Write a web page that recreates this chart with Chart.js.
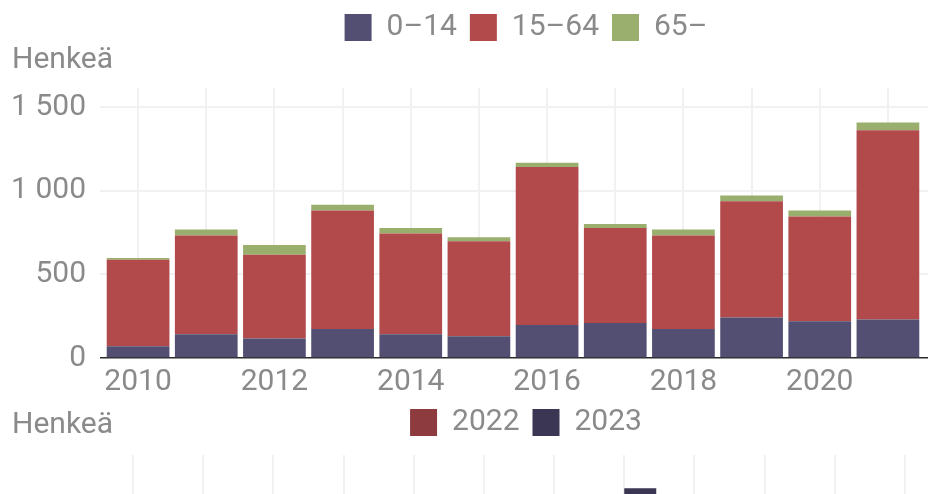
<!DOCTYPE html>
<html lang="fi">
<head>
<meta charset="utf-8">
<title>Henkeä</title>
<script src="https://cdn.jsdelivr.net/npm/chart.js@4/dist/chart.umd.min.js"></script>
<style>
  html, body { margin: 0; padding: 0; background: #fff; overflow: hidden; width: 928px; height: 494px; }
  canvas { display: block; }
  #chart { margin-bottom: -4px; }
</style>
</head>
<body>
<canvas id="chart" width="1040" height="399"></canvas>
<canvas id="chart2" width="1040" height="395"></canvas>
<script>
// yearly figures by age group
const years = ['2010', '2011', '2012', '2013', '2014', '2015', '2016', '2017', '2018', '2019', '2020', '2021'];
const age0to14 = [70, 142, 116, 174, 142, 130, 198, 210, 174, 242, 220, 230];
const age15to64 = [518, 590, 502, 708, 602, 568, 944, 568, 558, 696, 626, 1132];
const age65plus = [10, 36, 58, 34, 34, 24, 26, 24, 36, 34, 36, 46];
const ageLabels = ['0–14', '15–64', '65–'];
const yTicks = [0, 500, 1000, 1500];

// monthly figures (only the top of the second chart is in view)
const months = ['tammi', 'helmi', 'maalis', 'huhti', 'touko', 'kesä', 'heinä', 'elo', 'syys', 'loka', 'marras', 'joulu'];
const year2022 = [55, 48, 62, 70, 85, 110, 95, 150, 120, 90, 75, 80];
const year2023 = [62, 55, 70, 80, 95, 125, 105, 221, 135, 100, 85, 88];
const monthSeries = ['2022', '2023'];
const yTicks2 = [0, 50, 100, 150, 200];

const textColor = '#8a8a8a';
const gridColor = '#f1f1f1';

Chart.defaults.font.family = 'Roboto, sans-serif';
Chart.defaults.font.size = 30;
Chart.defaults.color = textColor;

const fmt = v => String(v).replace(/\B(?=(\d{3})+(?!\d))/g, '\u00a0');
const lineCol = c => (c.tick && c.tick.value === 0) ? '#2a2a2a' : gridColor;
const lineW = c => (c.tick && c.tick.value === 0) ? 1.5 : 2;
const fixTicks = list => s => { s.ticks = list.map(v => ({ value: v })); };

const legendOpts = {
    position: 'top',
    labels: { boxWidth: 27, boxHeight: 27, padding: 13, color: textColor, font: { size: 30 } }
};

// invisible right-hand scale: keeps the plot narrower than the canvas
function rightSpacer(width, max, list) {
    return {
        position: 'right',
        min: 0, max: max,
        border: { display: false },
        grid: { drawOnChartArea: false, color: lineCol, lineWidth: lineW, tickLength: 8 },
        ticks: { display: false },
        afterBuildTicks: fixTicks(list),
        afterFit: s => { s.width = width; }
    };
}

var ctx = document.getElementById('chart').getContext('2d');
var chart = new Chart(ctx, {
    type: 'bar',
    data: {
        labels: years,
        datasets: [
            { label: ageLabels[0], data: age0to14, backgroundColor: '#524f72' },
            { label: ageLabels[1], data: age15to64, backgroundColor: '#b24a4c' },
            { label: ageLabels[2], data: age65plus, backgroundColor: '#9aaf6e' }
        ]
    },
    options: {
        responsive: false,
        animation: false,
        layout: { padding: { left: 12, top: -0.5, right: 0, bottom: -7 } },
        datasets: { bar: { categoryPercentage: 0.92, barPercentage: 1, borderWidth: 0 } },
        plugins: {
            legend: legendOpts,
            title: {
                display: true, text: 'Henkeä', align: 'start', weight: 500,
                color: textColor, font: { size: 30, weight: 'normal', lineHeight: 0.6 },
                padding: { top: -1, bottom: 18.5 }
            },
            tooltip: { enabled: false }
        },
        scales: {
            x: {
                stacked: true,
                border: { display: false },
                grid: { offset: false, color: gridColor, lineWidth: 2, drawTicks: false },
                ticks: {
                    autoSkip: false, maxRotation: 0, padding: 6,
                    callback: (v, i) => i % 2 === 0 ? years[i] : ''
                }
            },
            y: {
                stacked: true,
                min: 0, max: 1615,
                border: { display: false },
                grid: { color: lineCol, lineWidth: lineW, tickLength: 4 },
                ticks: { padding: 14, callback: v => fmt(v) },
                afterBuildTicks: fixTicks(yTicks),
                afterFit: s => { s.width = 92; }
            },
            yR: rightSpacer(118, 1615, yTicks)
        }
    }
});

var ctx2 = document.getElementById('chart2').getContext('2d');
var chart2 = new Chart(ctx2, {
    type: 'bar',
    data: {
        labels: months,
        datasets: [
            { label: monthSeries[0], data: year2022, backgroundColor: '#8e3b40' },
            { label: monthSeries[1], data: year2023, backgroundColor: '#3a3653' }
        ]
    },
    options: {
        responsive: false,
        animation: false,
        layout: { padding: { left: 12, top: -0.5, right: 0, bottom: 0 } },
        datasets: { bar: { categoryPercentage: 0.912, barPercentage: 1, borderWidth: 0 } },
        plugins: {
            legend: legendOpts,
            title: {
                display: true, text: 'Henkeä', align: 'start', weight: 500,
                color: textColor, font: { size: 30, weight: 'normal', lineHeight: 0.6 },
                padding: { top: -31.5, bottom: 21 }
            },
            tooltip: { enabled: false }
        },
        scales: {
            x: {
                border: { display: false },
                grid: { offset: false, color: gridColor, lineWidth: 2, drawTicks: false },
                ticks: { autoSkip: false, maxRotation: 0, padding: 6 }
            },
            y: {
                min: 0, max: 250,
                border: { display: false },
                grid: { color: lineCol, lineWidth: lineW, tickLength: 4 },
                ticks: { padding: 14, callback: v => fmt(v) },
                afterBuildTicks: fixTicks(yTicks2),
                afterFit: s => { s.width = 86; }
            },
            yR: rightSpacer(100, 250, yTicks2)
        }
    }
});
</script>
</body>
</html>
